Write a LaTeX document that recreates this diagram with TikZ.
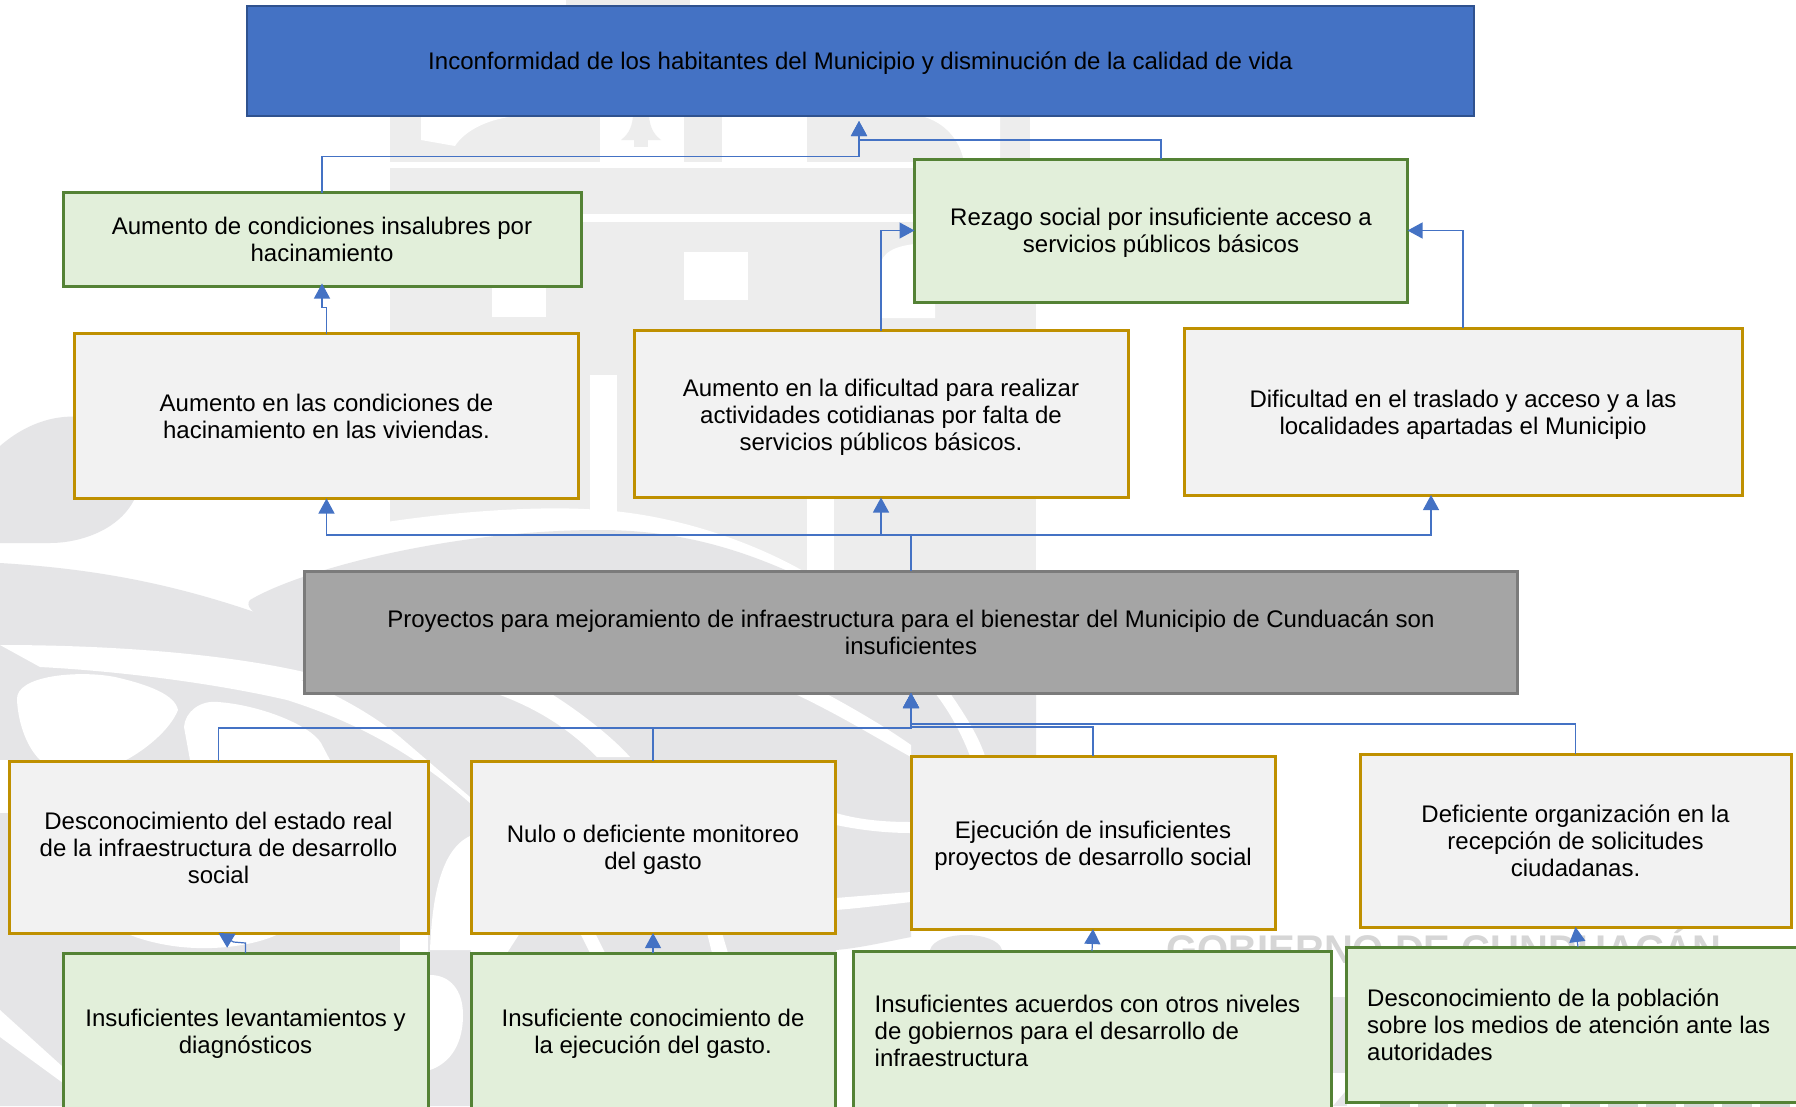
\documentclass[tikz,border=0pt]{standalone}
\usepackage{fontspec}
\setmainfont{Liberation Sans}
\usetikzlibrary{arrows.meta,calc}
\definecolor{wmB}{HTML}{EDEDED}
\definecolor{wmS}{HTML}{E5E5E7}
\definecolor{wmT}{HTML}{D6D6D6}
\definecolor{cblue}{HTML}{4472C4}
\definecolor{cblueD}{HTML}{2F528F}
\definecolor{cgold}{HTML}{BF9000}
\definecolor{cgreen}{HTML}{548235}
\definecolor{cgreenF}{HTML}{E2EFDA}
\definecolor{cgrayF}{HTML}{A5A5A5}
\definecolor{cgrayD}{HTML}{7B7B7B}
\definecolor{cpale}{HTML}{F2F2F2}
\newcommand{\tsh}[1]{\rule{0pt}{\dimexpr17.5pt+#1pt+#1pt\relax}}
\tikzset{
  basebox/.style={draw,rectangle,inner sep=0pt,outer sep=0pt,align=center,text=black,
    font=\fontsize{24}{27}\selectfont},
  topbox/.style={basebox,fill=cblue,draw=cblueD,line width=2.5pt},
  graybox/.style={basebox,fill=cgrayF,draw=cgrayD,line width=3pt},
  goldbox/.style={basebox,fill=cpale,draw=cgold,line width=3pt},
  greenbox/.style={basebox,fill=cgreenF,draw=cgreen,line width=3pt},
  conn/.style={draw=cblue,line width=1.2pt},
  arr/.style={conn,-{Triangle[length=15pt,width=16pt,fill=cblue]}},
  wm/.style={fill=wmS},
  wb/.style={fill=white}
}
\begin{document}
\begin{tikzpicture}[x=1pt,y=-1pt]
\useasboundingbox (0,0) rectangle (1796,1106);
\clip (0,0) rectangle (1796,1106);
\fill[white] (0,0) rectangle (1796,1106);
% watermark: building
\fill[wmB] (566,0) rectangle (690,6);
\fill[wmB] (390,116) rectangle (1030,214);
\fill[wmB] (390,214) rectangle (1036,570);
\fill[wmB] (390,570) rectangle (1036,780);
\fill[wb] (421,116) -- (421,140) -- (455,146) .. controls (465,130) and (490,118) .. (518,116) -- cycle;
\fill[wb] (600,116) rectangle (684,162);
\fill[wmB] (641,116) -- (633,116) .. controls (632,130) and (626,136) .. (621,140) -- (661,140) .. controls (656,136) and (650,130) .. (649,116) -- cycle;
\fill[wmB] (634,140) rectangle (648,147);
\fill[wb] (722,116) rectangle (807,162);
\fill[wb] (921,116) .. controls (945,122) and (960,140) .. (964,162) -- (1000,162) -- (1000,116) -- cycle;
\fill[wb] (385,162) rectangle (1040,168);
\fill[wb] (385,214) rectangle (1040,222);
\fill[wb] (492,287) rectangle (546,317);
\fill[wb] (684,252) rectangle (748,300);
\fill[wb] (881,318) -- (881,262) .. controls (885,250) and (900,243) .. (935,243) -- (935,318) -- cycle;
\fill[wb] (590,375) rectangle (617,515);
\fill[wb] (807,498) rectangle (834,570);
\fill[wb] (380,523) .. controls (450,512) and (540,505) .. (600,510) .. controls (680,515) and (760,545) .. (810,575) -- (250,640) -- (250,600) -- cycle;
% watermark: swooshes
\fill[wm] (0,446) .. controls (30,420) and (60,415) .. (80,417) -- (135,430) -- (135,498) .. controls (120,530) and (80,543) .. (50,543) -- (0,543) -- cycle;
\fill[wm] (250,600) .. controls (300,570) and (450,530) .. (600,530) .. controls (680,530) and (740,550) .. (790,572) -- (304,640) .. controls (280,625) and (240,612) .. (250,600) -- cycle;
\fill[wm] (0,563) .. controls (115,570) and (200,590) .. (304,630) -- (1036,630) -- (1036,760) -- (911,760) -- (911,937) .. controls (885,942) and (860,948) .. (836,950) -- (836,1106) -- (0,1106) -- cycle;
\fill[wm] (930,950) .. controls (935,930) and (997,930) .. (1002,950) -- cycle;
\fill[wm] (1330,997) -- (1347,997) -- (1347,1073) -- (1330,1073) -- cycle;
\fill[wm] (1333,1106) -- (1345,1092) -- (1347,1106) -- cycle;
% watermark: white bands and blobs
\fill[wb] (0,645) .. controls (120,645) and (230,655) .. (304,672) .. controls (420,680) and (520,690) .. (550,693) .. controls (585,715) and (615,740) .. (630,757) -- (597,757) .. controls (570,730) and (540,710) .. (500,695) -- (300,680) .. controls (340,695) and (380,720) .. (400,737) -- (470,797) -- (470,803) .. controls (410,750) and (350,720) .. (287,700) .. controls (200,680) and (100,670) .. (40,667) -- cycle;
\fill[wb] (17,700) .. controls (15,675) and (80,670) .. (115,677) .. controls (150,685) and (175,695) .. (178,710) .. controls (170,730) and (145,750) .. (126,760) -- (40,760) .. controls (25,745) and (18,720) .. (17,700) -- cycle;
\fill[wb] (184,727) .. controls (185,712) and (200,700) .. (218,702) .. controls (260,705) and (310,725) .. (321,743) -- (330,760) -- (190,760) -- cycle;
\fill[wb] (125,933) -- (280,933) .. controls (260,945) and (190,960) .. (125,933) -- cycle;
\fill[wb] (400,933) rectangle (428,953);
\fill[wb] (430,950) .. controls (432,900) and (440,850) .. (470,836) -- (471,950) -- cycle;
\fill[wb] (430,975) .. controls (450,975) and (463,990) .. (463,1015) .. controls (463,1050) and (445,1065) .. (430,1070) -- cycle;
\fill[wb] (0,1010) -- (63,1067) -- (63,1083) -- (0,1037) -- cycle;
\fill[wb] (0,760) rectangle (9,813);
\fill[wb] (471,933) -- (520,933) -- (507,953) -- (471,953) -- cycle;
\fill[wb] (580,933) -- (595,933) -- (605,953) -- (590,953) -- cycle;
\fill[wb] (707,933) -- (722,933) -- (728,953) -- (712,953) -- cycle;
\fill[wb] (793,693) -- (825,693) .. controls (860,712) and (890,730) .. (911,745) -- (911,757) .. controls (880,740) and (840,715) .. (793,693) -- cycle;
\fill[wb] (935,693) -- (950,693) .. controls (965,715) and (978,735) .. (985,756) -- (970,756) .. controls (962,735) and (950,712) .. (935,693) -- cycle;
\fill[wb] (836,813) .. controls (860,820) and (885,822) .. (911,822) -- (911,833) .. controls (885,833) and (860,830) .. (836,825) -- cycle;
\fill[wb] (836,898) .. controls (860,896) and (885,894) .. (911,892) -- (911,902) .. controls (885,905) and (860,908) .. (836,910) -- cycle;
\node[anchor=base west,inner sep=0pt,text=wmT,font=\fontsize{40}{42}\selectfont\bfseries] (wmtext) at (1166,963.5) {GOBIERNO DE CUNDUACÁN};
\draw[wmT,line width=3pt,dash pattern=on 30pt off 8pt] (1380,1105) -- (1796,1105);
% boxes
\node[topbox,minimum width=1227pt,minimum height=110pt] (top) at (860.5,61) {\tsh{2}Inconformidad de los habitantes del Municipio y disminución de la calidad de vida};
\node[greenbox,minimum width=518pt,minimum height=94pt] (gA) at (322,239.5) {Aumento de condiciones insalubres por\\hacinamiento};
\node[greenbox,minimum width=493pt,minimum height=143pt] (rez) at (1161,230.5) {\tsh{2}Rezago social por insuficiente acceso a\\servicios públicos básicos};
\node[goldbox,minimum width=504pt,minimum height=165pt] (a1) at (326.5,416) {Aumento en las condiciones de\\hacinamiento en las viviendas.};
\node[goldbox,minimum width=494pt,minimum height=167pt] (a2) at (881,414) {\tsh{3}Aumento en la dificultad para realizar\\actividades cotidianas por falta de\\servicios públicos básicos.};
\node[goldbox,minimum width=558pt,minimum height=167pt] (a3) at (1463,411.5) {\tsh{3}Dificultad en el traslado y acceso y a las\\localidades apartadas el Municipio};
\node[graybox,minimum width=1213pt,minimum height=122pt] (gray) at (911,632) {Proyectos para mejoramiento de infraestructura para el bienestar del Municipio de Cunduacán son\\insuficientes};
\node[goldbox,minimum width=419pt,minimum height=172pt] (b1) at (218.5,847) {\tsh{0.5}Desconocimiento del estado real\\de la infraestructura de desarrollo\\social};
\node[goldbox,minimum width=364pt,minimum height=172pt] (b2) at (653,847) {\tsh{3}Nulo o deficiente monitoreo\\del gasto};
\node[goldbox,minimum width=364pt,minimum height=173pt] (b3) at (1093,842.5) {\tsh{3.5}Ejecución de insuficientes\\proyectos de desarrollo social};
\node[goldbox,minimum width=431pt,minimum height=173pt] (b4) at (1575.5,840.5) {\tsh{0}Deficiente organización en la\\recepción de solicitudes\\ciudadanas.};
\node[greenbox,minimum width=365pt,minimum height=156pt] (c1) at (245.5,1031) {\tsh{3}Insuficientes levantamientos y\\diagnósticos};
\node[greenbox,minimum width=364pt,minimum height=156pt] (c2) at (653,1031) {\tsh{3}Insuficiente conocimiento de\\la ejecución del gasto.};
\node[greenbox,minimum width=478pt,minimum height=162pt] (c3) at (1092,1032) {\begin{tabular}{@{}l@{}}\tsh{2.5}Insuficientes acuerdos con otros niveles\\de gobiernos para el desarrollo de\\infraestructura\end{tabular}\hspace{9pt}};
\node[greenbox,minimum width=464pt,minimum height=155pt] (c4) at (1578,1024.5) {};
\node[anchor=west,inner sep=0pt,align=left,text=black,font=\fontsize{24}{27}\selectfont] (c4t) at (1367,1024.5) {Desconocimiento de la población\\sobre los medios de atención ante las\\autoridades};
% connectors
\coordinate (topin) at ($(top.south)+(-1.5,5)$);
\draw[arr] (gA.north) -- ++(0,-36) -| (topin);
\draw[arr] (rez.north) -- ++(0,-19) -| (topin);
\draw[arr] (a1.north) -- ++(0,-26) -| ($(gA.south)+(0,-3)$);
\draw[arr] (a2.north) |- (rez.west);
\draw[arr] (a3.north) |- (rez.east);
\draw[arr] (gray.north) -- ++(0,-36) -| (a1.south);
\draw[arr] (gray.north) -- ++(0,-36) -| (a2.south);
\draw[arr] (gray.north) -- ++(0,-36) -| ($(a3.south)+(-32,0)$);
\draw[arr] (b1.north) -- ++(0,-33) -| (gray.south);
\draw[arr] (b2.north) -- ++(0,-33) -| (gray.south);
\draw[arr] (b3.north) -- ++(0,-29) -| (gray.south);
\draw[arr] (b4.north) -- ++(0,-30) -| (gray.south);
\draw[arr] (c1.north) -- ++(0,-10) -- ++(-12,-1) -- (b1.south);
\draw[arr] (c2.north) -- (b2.south);
\draw[arr] (c3.north) -- (b3.south);
\draw[arr] (c4.north) -- (b4.south);
\end{tikzpicture}
\end{document}
